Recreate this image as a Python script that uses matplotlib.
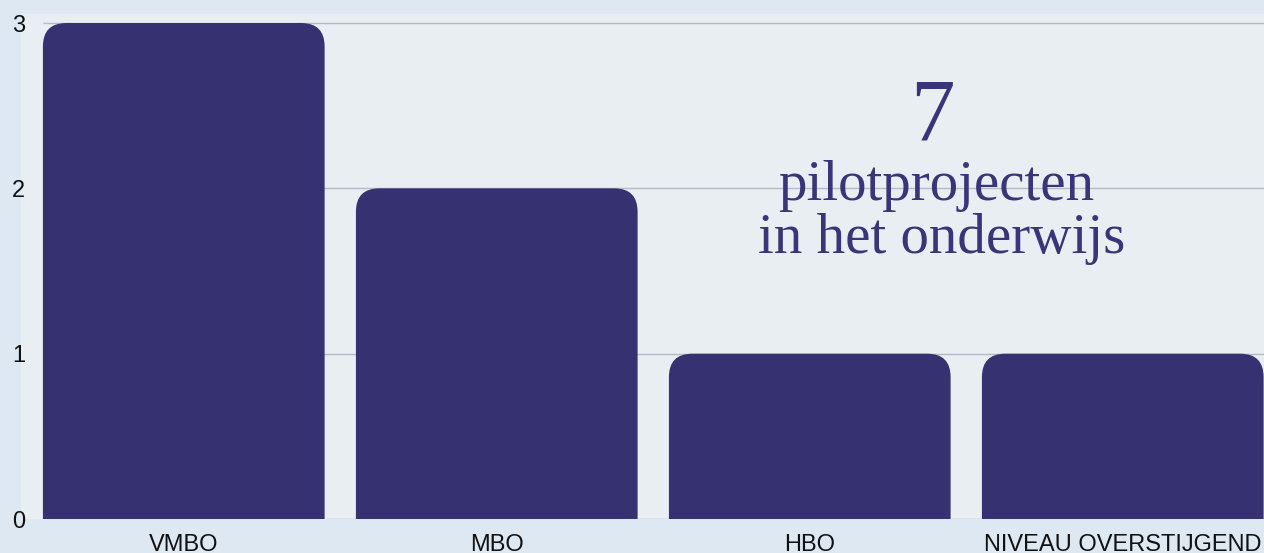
import matplotlib
matplotlib.use("Agg")
import matplotlib.pyplot as plt
from matplotlib.patches import FancyBboxPatch

# data
categories = ["VMBO", "MBO", "HBO", "NIVEAU OVERSTIJGEND"]
counts = [3, 2, 1, 1]
y_ticks = [0, 1, 2, 3]
total_label = "7"
caption_lines = ["pilotprojecten", "in het onderwijs"]

W, H = 1264, 553
BAR_COLOR = "#363272"
TEXT_COLOR = "#3a3579"
OUTER_BG = "#dde8f3"
PLOT_BG = "#e9eef3"
GRID = "#b6bac2"

fig = plt.figure(figsize=(W / 100, H / 100), dpi=100)
fig.patch.set_facecolor(OUTER_BG)

# axes in pixel terms: left 21, top 14, bottom 519, 313 px per category
px_per_x = 313.0
x_lo = -0.52
x_hi = 3.5
ax_left, ax_top, ax_bot = 21, 14, 519
ax_w = (x_hi - x_lo) * px_per_x
ax = fig.add_axes([ax_left / W, 1 - ax_bot / H, ax_w / W, (ax_bot - ax_top) / H])
ax.set_facecolor(PLOT_BG)
ax.set_xlim(x_lo, x_hi)
y_top = 3 + 9 / 165
ax.set_ylim(0, y_top)
px_per_y = (ax_bot - ax_top) / y_top

for s in ax.spines.values():
    s.set_visible(False)

# grid lines start at the first bar edge
ax.hlines(y_ticks, -0.45, x_hi, colors=GRID, linewidth=1, zorder=1)

bars = ax.bar(range(len(categories)), counts, width=0.9, color=BAR_COLOR, zorder=2)
aspect = px_per_x / px_per_y
for b in bars:
    x0, w, h = b.get_x(), b.get_width(), b.get_height()
    b.remove()
    p = FancyBboxPatch((x0, -0.5), w, h + 0.5,
                       boxstyle="round,pad=0,rounding_size=0.075",
                       mutation_aspect=aspect,
                       facecolor=BAR_COLOR, edgecolor="none", zorder=2)
    ax.add_patch(p)

ax.set_yticks(y_ticks)
ax.set_yticklabels([str(t) for t in y_ticks])
ax.set_xticks(range(len(categories)))
ax.set_xticklabels(categories)
ax.tick_params(axis="y", length=0, pad=-3, labelsize=17, labelcolor="#111111")
ax.tick_params(axis="x", length=0, pad=11, labelsize=17, labelcolor="#111111")
for lbl in ax.get_xticklabels() + ax.get_yticklabels():
    lbl.set_fontfamily("Liberation Sans")

# the big "7 pilotprojecten in het onderwijs" caption
serif = "Liberation Serif"
fig.text(932 / W, 1 - 140 / H, total_label, ha="center", va="baseline",
         fontsize=64, color=TEXT_COLOR, family=serif)
fig.text(936 / W, 1 - 200 / H, caption_lines[0], ha="center", va="baseline",
         fontsize=41, color=TEXT_COLOR, family=serif)
fig.text(942 / W, 1 - 253 / H, caption_lines[1], ha="center", va="baseline",
         fontsize=41, color=TEXT_COLOR, family=serif)

fig.savefig("out.png", dpi=100, facecolor=fig.get_facecolor())
